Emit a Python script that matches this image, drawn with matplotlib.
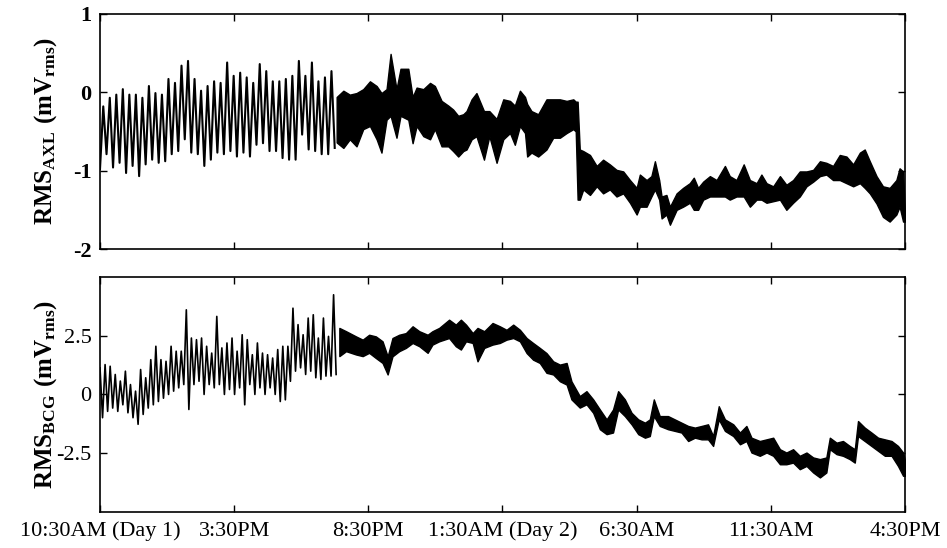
import matplotlib
matplotlib.use("Agg")
import matplotlib.pyplot as plt
import numpy as np

plt.rcParams['font.family'] = 'Liberation Serif'
plt.rcParams['mathtext.fontset'] = 'custom'
plt.rcParams['mathtext.bf'] = 'Liberation Serif:bold'
plt.rcParams['mathtext.rm'] = 'Liberation Serif:bold'
plt.rcParams['mathtext.default'] = 'bf'
plt.rcParams['axes.unicode_minus'] = False

# hours since 10:30AM on day 1
tick_hours = [0, 5, 10, 15, 20, 25, 30]
tick_labels = ['10:30AM (Day 1)', '3:30PM', '8:30PM', '1:30AM (Day 2)',
               '6:30AM', '11:30AM', '4:30PM']

# AXL, first part: slow breathing-like oscillation, successive troughs/peaks
axl_osc = [-0.98, -0.18, -0.79, -0.07, -0.96, -0.03, -0.90, 0.04, -1.03, -0.03,
           -0.94, -0.03, -1.07, -0.07, -0.92, 0.08, -0.86, -0.01, -0.90, -0.03,
           -0.88, 0.17, -0.79, 0.12, -0.75, 0.34, -0.60, 0.40, -0.77, 0.17,
           -0.79, 0.02, -0.94, 0.08, -0.86, 0.14, -0.77, 0.12, -0.79, 0.38,
           -0.75, 0.21, -0.82, 0.25, -0.77, 0.19, -0.82, 0.12, -0.67, 0.36,
           -0.65, 0.27, -0.75, 0.14, -0.75, 0.14, -0.84, 0.17, -0.86, 0.21,
           -0.86, 0.40, -0.54, 0.21, -0.73, 0.38, -0.75, 0.14, -0.79, 0.19,
           -0.79, 0.27, -0.71]
axl_osc_dt = 0.1215  # hours between samples

# AXL, rest of the recording: max/min envelope of the dense trace
axl_t = [8.82, 9.07, 9.31, 9.56, 9.81, 10.06, 10.31, 10.49, 10.68, 10.83,
         11.05, 11.20, 11.49, 11.65, 11.80, 12.05, 12.30, 12.48, 12.73, 12.98,
         13.16, 13.35, 13.54, 13.66, 13.85, 14.03, 14.31, 14.51, 14.78, 15.03,
         15.28, 15.46, 15.65, 15.84, 15.92, 16.08, 16.33, 16.64, 16.89, 17.14,
         17.39, 17.64, 17.73, 17.80, 17.88, 18.01, 18.26, 18.51, 18.75, 19.00,
         19.25, 19.50, 19.75, 20.00, 20.12, 20.37, 20.55, 20.68, 20.84, 20.93,
         21.11, 21.24, 21.49, 21.73, 21.98, 22.13, 22.29, 22.48, 22.73, 22.98,
         23.29, 23.47, 23.72, 23.99, 24.22, 24.47, 24.65, 24.84, 25.09, 25.34,
         25.58, 25.83, 26.08, 26.33, 26.58, 26.83, 27.07, 27.32, 27.57, 27.82,
         28.07, 28.32, 28.50, 28.69, 28.94, 29.18, 29.43, 29.68, 29.80, 29.93,
         30.00]
axl_hi = [-0.06, 0.02, -0.03, -0.01, 0.04, 0.14, 0.08, -0.01, 0.04, 0.49,
          0.04, 0.30, 0.30, -0.06, 0.06, 0.04, 0.12, 0.08, -0.11, -0.17,
          -0.22, -0.30, -0.28, -0.24, -0.09, -0.01, -0.24, -0.24, -0.34, -0.09,
          -0.11, -0.17, 0.02, -0.06, -0.15, -0.24, -0.28, -0.09, -0.09, -0.09,
          -0.11, -0.09, -0.12, -0.12, -0.73, -0.75, -0.80, -0.94, -0.86, -0.92,
          -0.99, -1.01, -1.12, -1.22, -1.05, -1.12, -1.07, -0.88, -1.12, -1.33,
          -1.31, -1.46, -1.29, -1.22, -1.16, -1.09, -1.22, -1.14, -1.07, -1.12,
          -0.94, -1.07, -1.12, -0.92, -1.12, -1.16, -1.05, -1.16, -1.20, -1.07,
          -1.18, -1.12, -1.01, -1.01, -0.99, -0.88, -0.90, -0.94, -0.80, -0.82,
          -0.92, -0.77, -0.73, -0.88, -1.07, -1.20, -1.22, -1.12, -0.97, -1.01,
          -1.55]
axl_lo = [-0.64, -0.71, -0.60, -0.69, -0.47, -0.43, -0.60, -0.77, -0.35, -0.30,
          -0.58, -0.30, -0.35, -0.65, -0.43, -0.56, -0.60, -0.47, -0.69, -0.69,
          -0.75, -0.82, -0.75, -0.73, -0.60, -0.56, -0.86, -0.56, -0.90, -0.60,
          -0.52, -0.67, -0.43, -0.52, -0.82, -0.77, -0.82, -0.73, -0.58, -0.58,
          -0.52, -0.47, -0.50, -1.37, -1.37, -1.24, -1.31, -1.20, -1.29, -1.24,
          -1.33, -1.29, -1.41, -1.56, -1.46, -1.46, -1.33, -1.24, -1.37, -1.61,
          -1.56, -1.69, -1.50, -1.46, -1.41, -1.50, -1.50, -1.37, -1.33, -1.33,
          -1.33, -1.37, -1.33, -1.33, -1.46, -1.37, -1.37, -1.41, -1.39, -1.37,
          -1.50, -1.41, -1.33, -1.20, -1.14, -1.07, -1.05, -1.12, -1.12, -1.16,
          -1.20, -1.16, -1.22, -1.29, -1.42, -1.59, -1.65, -1.56, -1.46, -1.65,
          -1.65]

# BCG, first part: alternating highs and lows of the noisy trace
bcg_early = [1.13, -0.99, 1.27, -0.72, 1.20, -0.58, 0.85, -0.72, 0.57, -0.44,
             0.99, -0.78, 0.42, -0.99, 0.14, -1.27, 1.06, -0.85, 0.71, -0.58,
             1.48, -0.44, 2.05, -0.30, 1.48, -0.16, 1.41, 0.00, 2.05, 0.14,
             1.84, 0.28, 1.84, 0.42, 3.60, -0.64, 2.40, 0.42, 2.33, 0.56,
             2.40, 0.00, 2.05, 0.42, 1.76, 0.28, 3.32, 0.42, 1.98, 0.00,
             2.19, 0.21, 2.40, 0.00, 1.84, 0.28, 2.54, -0.44, 2.33, 0.42,
             1.69, 0.00, 2.19, 0.28, 1.76, 0.00, 1.69, 0.28, 1.55, 0.00,
             1.91, -0.30, 2.05, -0.23, 2.05, 0.56, 3.67, 0.99, 2.97, 1.13,
             2.54, 0.85, 3.25, 0.99, 3.39, 0.71, 2.40, 0.64, 3.25, 0.78,
             2.47, 0.78, 4.24, 0.85]
bcg_early_end = 8.8

# BCG, rest of the recording: max/min envelope
bcg_t = [8.92, 9.17, 9.54, 9.79, 10.03, 10.28, 10.53, 10.72, 10.90, 11.15,
         11.40, 11.65, 11.90, 12.21, 12.39, 12.64, 13.01, 13.26, 13.45, 13.64,
         13.89, 14.07, 14.32, 14.63, 14.90, 15.15, 15.40, 15.65, 15.90, 16.14,
         16.39, 16.64, 16.89, 17.14, 17.39, 17.57, 17.88, 18.13, 18.38, 18.63,
         18.88, 19.12, 19.31, 19.56, 19.81, 20.06, 20.31, 20.49, 20.64, 20.86,
         21.17, 21.42, 21.67, 21.92, 22.17, 22.42, 22.66, 22.85, 23.06, 23.29,
         23.60, 23.85, 24.09, 24.28, 24.59, 24.84, 25.09, 25.34, 25.58, 25.83,
         26.08, 26.33, 26.58, 26.83, 27.07, 27.20, 27.45, 27.69, 27.94, 28.13,
         28.25, 28.50, 28.75, 29.00, 29.25, 29.50, 29.74, 29.93, 30.00]
bcg_hi = [2.83, 2.69, 2.47, 2.33, 2.54, 2.47, 2.26, 1.62, 2.40, 2.54,
          2.61, 2.90, 2.69, 2.54, 2.69, 2.83, 3.18, 2.97, 3.18, 2.97,
          2.61, 2.83, 2.69, 3.04, 2.90, 2.75, 2.97, 2.75, 2.40, 2.19,
          1.98, 1.76, 1.41, 1.27, 1.34, 0.56, -0.07, 0.14, -0.21, -0.64,
          -1.06, -0.64, 0.14, -0.21, -0.78, -1.06, -1.20, -1.06, -0.21, -0.92,
          -0.92, -1.06, -1.20, -1.34, -1.41, -1.34, -1.27, -1.77, -0.50, -1.06,
          -1.27, -1.62, -1.34, -1.84, -1.98, -1.91, -1.84, -2.33, -2.47, -2.33,
          -2.61, -2.47, -2.68, -2.75, -2.68, -1.84, -2.05, -1.98, -2.19, -2.33,
          -1.13, -1.41, -1.62, -1.84, -1.91, -1.98, -2.19, -2.47, -2.80]
bcg_lo = [1.63, 1.84, 1.70, 1.63, 1.77, 1.55, 1.34, 0.85, 1.62, 1.84,
          1.98, 2.19, 2.05, 1.77, 2.12, 2.26, 2.40, 2.05, 1.91, 2.26,
          2.19, 1.41, 1.98, 2.12, 2.19, 2.33, 2.40, 2.26, 1.76, 1.48,
          1.34, 0.92, 0.85, 0.56, 0.42, -0.21, -0.56, -0.42, -0.78, -1.48,
          -1.69, -1.62, -0.64, -0.92, -1.27, -1.69, -1.84, -1.77, -0.92, -1.34,
          -1.48, -1.55, -1.62, -1.98, -1.84, -1.91, -1.91, -2.19, -1.06, -1.55,
          -1.77, -2.12, -1.98, -2.47, -2.61, -2.47, -2.61, -2.97, -2.97, -2.90,
          -3.18, -3.04, -3.32, -3.53, -3.32, -2.33, -2.54, -2.61, -2.75, -2.90,
          -1.77, -1.98, -2.19, -2.40, -2.61, -2.61, -3.04, -3.46, -3.46]

fig = plt.figure(figsize=(9.47, 5.48), dpi=100)
ax1 = fig.add_axes([0.1056, 0.5456, 0.850, 0.429])
ax2 = fig.add_axes([0.1056, 0.0657, 0.850, 0.429])

# top panel
t_osc = np.arange(len(axl_osc)) * axl_osc_dt
ax1.plot(t_osc, axl_osc, color='black', lw=1.5)
ax1.fill_between(axl_t, axl_lo, axl_hi, color='black', lw=1.0)

# bottom panel
t_early = np.linspace(0, bcg_early_end, len(bcg_early))
ax2.plot(t_early, bcg_early, color='black', lw=1.2)
ax2.fill_between(bcg_t, bcg_lo, bcg_hi, color='black', lw=1.0)

ax1.set_ylim(-2, 1)
ax1.set_yticks([-2, -1, 0, 1])
ax1.set_yticklabels(['-2', '-1', '0', '1'])
ax2.set_ylim(-5, 5)
ax2.set_yticks([-2.5, 0, 2.5])
ax2.set_yticklabels(['-2.5', '0', '2.5'])

for ax in (ax1, ax2):
    ax.set_xlim(0, 30)
    ax.set_xticks(tick_hours)
    ax.tick_params(direction='in', top=True, right=True, length=5, width=1,
                   labelsize=16, pad=6)
    for s in ax.spines.values():
        s.set_linewidth(1.2)

ax1.tick_params(labelbottom=False)
for lab in ax1.get_yticklabels():
    lab.set_fontweight('bold')
ax2.set_xticklabels(tick_labels)
ax2.tick_params(axis='x', pad=7)

ax1.set_ylabel(r'$RMS_{AXL}\ (mV_{rms})$', fontsize=18, va='center')
ax2.set_ylabel(r'$RMS_{BCG}\ (mV_{rms})$', fontsize=18, va='center')
ax1.yaxis.set_label_coords(-0.068, 0.5)
ax2.yaxis.set_label_coords(-0.068, 0.5)

fig.savefig('out.png', dpi=100)
